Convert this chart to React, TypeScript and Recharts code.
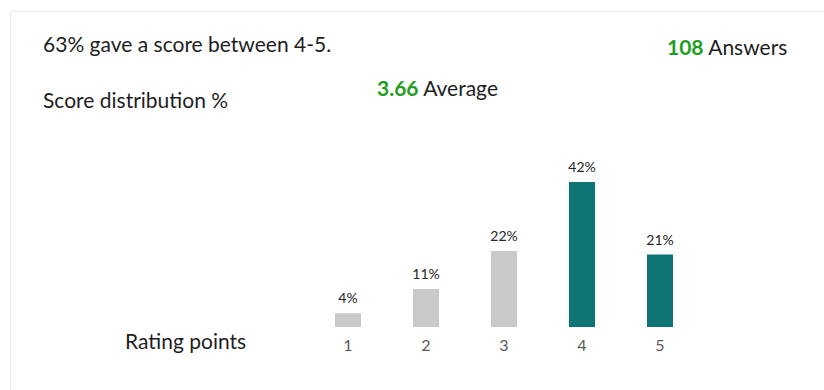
import { BarChart, Bar, XAxis, YAxis, Cell, LabelList } from "recharts";

// Score distribution data (percent of answers per rating point)
const ratings = ["1", "2", "3", "4", "5"];
const shares = [4, 11, 22, 42, 21];
const barColors = ["#c9c9c9", "#c9c9c9", "#c9c9c9", "#0e7474", "#0e7474"];

const answers = 108;
const average = 3.66;
const topShare = 63;

const data = ratings.map((r, i) => ({ rating: r, share: shares[i] }));

const font = "Lato, 'Open Sans', sans-serif";
const green = "#1f9e1f";
const ink = "#1e1e1e";

export default function App() {
  return (
    <div style={{ position: "absolute", left: 0, top: 0, width: 824, height: 390, background: "#fff", overflow: "hidden", fontFamily: font, color: ink }}>
      {/* card outline */}
      <div style={{ position: "absolute", left: 10, top: 11, width: 830, height: 400, border: "1px solid #ececec" }} />

      <div style={{ position: "absolute", left: 43, top: 31, fontSize: 21, whiteSpace: "nowrap" }}>
        {topShare}% gave a score between 4-5.
      </div>
      <div style={{ position: "absolute", left: 43, top: 87, fontSize: 21, whiteSpace: "nowrap" }}>
        Score distribution %
      </div>
      <div style={{ position: "absolute", left: 377, top: 75, fontSize: 21, whiteSpace: "nowrap" }}>
        <span style={{ color: green, fontWeight: 700 }}>{average.toFixed(2)}</span> Average
      </div>
      <div style={{ position: "absolute", left: 667, top: 34, fontSize: 21, whiteSpace: "nowrap" }}>
        <span style={{ color: green, fontWeight: 700 }}>{answers}</span> Answers
      </div>
      <div style={{ position: "absolute", left: 125, top: 328, fontSize: 21, whiteSpace: "nowrap" }}>
        Rating points
      </div>

      <div style={{ position: "absolute", left: 0, top: 0 }}>
        <BarChart
          width={824}
          height={390}
          data={data}
          margin={{ top: 182, right: 125, left: 309, bottom: 33 }}
          barCategoryGap={0}
        >
          <XAxis
            dataKey="rating"
            axisLine={false}
            tickLine={false}
            height={30}
            tickMargin={7}
            tick={{ fill: "#595959", fontSize: 16, fontFamily: font }}
          />
          <YAxis hide domain={[0, 42]} />
          <Bar dataKey="share" barSize={26} isAnimationActive={false}>
            {data.map((d, i) => (
              <Cell key={d.rating} fill={barColors[i]} />
            ))}
            <LabelList
              dataKey="share"
              position="top"
              offset={10}
              formatter={(v: number) => `${v}%`}
              style={{ fill: "#262626", fontSize: 14, fontFamily: font }}
            />
          </Bar>
        </BarChart>
      </div>
    </div>
  );
}
